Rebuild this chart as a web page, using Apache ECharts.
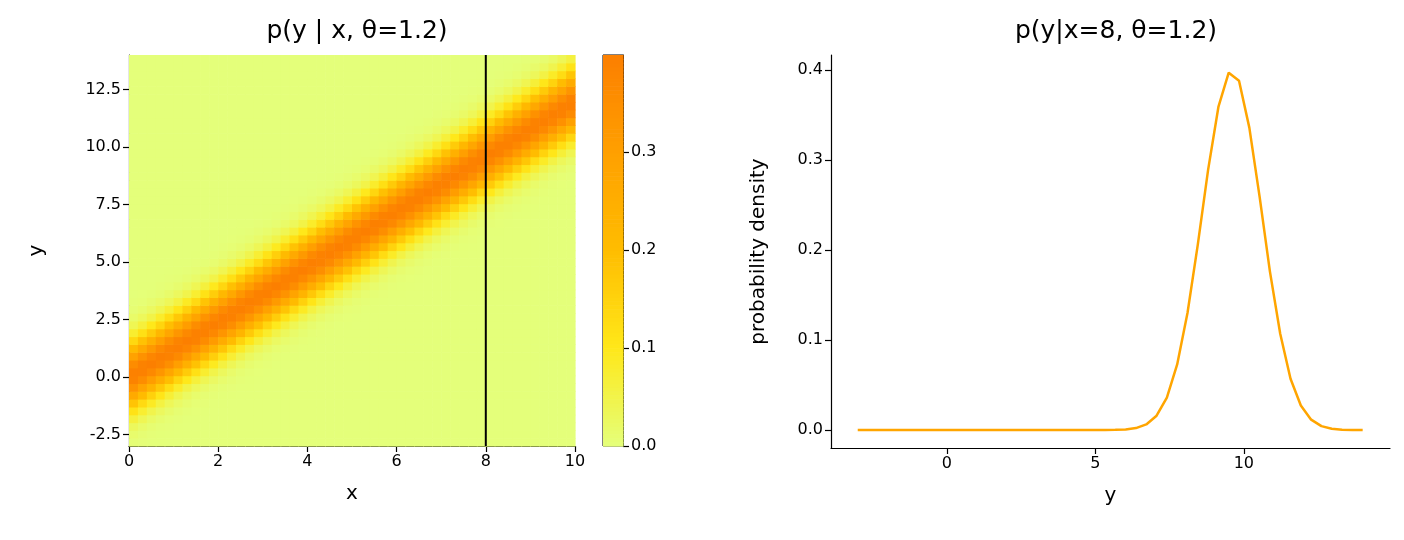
<!DOCTYPE html>
<html><head><meta charset="utf-8">
<script src="https://cdn.jsdelivr.net/npm/echarts@6/dist/echarts.min.js"></script>
<style>html,body{margin:0;padding:0;background:#fff}#c{width:1404px;height:540px}</style>
</head><body><div id="c"></div>
<script>
// Right panel: y grid and density values
const yGrid = Array.from({length:50},(_,i)=>+(-3+i*17/49).toFixed(3));
const densityAtX8 = [0,0,0,0,0,0,0,0,0,0,0,0,0,0,0,0,0,0,0,0,0,0,0,0.00001,0.00004,0.00018,0.00066,0.0021,0.0062,0.0159,0.0361,0.0728,0.130,0.206,0.289,0.359,0.397,0.388,0.336,0.259,0.176,0.107,0.057,0.0272,0.0115,0.0043,0.0014,0.0004,0.0001,0.00003];
const profileStep = 0.25;
const ridgeSlope = 1.2;
const profile = [0.399,0.387,0.352,0.301,0.242,0.183,0.130,0.086,0.054,0.032,0.018,0.009,0.0044,0.002,0.0009,0.0004,0.0001,0];
const leftYTicks = [-2.5,0,2.5,5,7.5,10,12.5];
const rightXTicks = [0,5,10];
const rightYTicks = [0,0.1,0.2,0.3,0.4];
const xCells = 50, yCells = 50, xMin=0, xMax=10, yMin=-3, yMax=14;
const cellW=(xMax-xMin)/xCells, cellH=(yMax-yMin)/yCells;
function look(d){d=Math.abs(d)/profileStep;const i=Math.floor(d);if(i>=profile.length-1)return 0;const f=d-i;return profile[i]*(1-f)+profile[i+1]*f;}
const heat=[];
for(let j=0;j<xCells;j++)for(let i=0;i<yCells;i++){const xc=xMin+cellW*(j+0.5),yc=yMin+cellH*(i+0.5);heat.push([xc,yc,look(yc-ridgeSlope*xc)]);}
const vmax=0.399;
const cbar=[];for(let k=0;k<100;k++)cbar.push([0,vmax*(k+0.5)/100,vmax*(k+0.5)/100]);
const colors=['#e4ff7a','#ffe81a','#ffbd00','#ffa000','#fc7f00'];
const font='DejaVu Sans';
const tick={color:'#000',fontSize:16,fontFamily:font};
const axL={onZero:false,lineStyle:{color:'#000',width:1.2}};
const axT={show:true,length:6,lineStyle:{color:'#000',width:1.2}};
const nm={fontSize:20,color:'#000',fontFamily:font};
const ch=echarts.init(document.getElementById('c'));
function rect(w,h){return function(p,api){const c=api.coord([api.value(0),api.value(1)]);const s=api.size([w,h]);return{type:'rect',shape:{x:c[0]-s[0]/2,y:c[1]-s[1]/2,width:s[0]+0.6,height:s[1]+0.6},style:{fill:api.visual('color')}};};}
ch.setOption({
 animation:false,textStyle:{fontFamily:font},
 title:[{text:'p(y | x, θ=1.2)',left:352,top:14,textAlign:'center',textStyle:{fontSize:25,fontWeight:'normal',fontFamily:font,color:'#000'}},
        {text:'p(y|x=8, θ=1.2)',left:1111,top:14,textAlign:'center',textStyle:{fontSize:25,fontWeight:'normal',fontFamily:font,color:'#000'}}],
 grid:[{left:129,top:55,width:446,height:391},{left:603,top:55,width:20,height:391},{left:831,top:55,width:559,height:393}],
 xAxis:[
  {gridIndex:0,type:'value',min:0,max:10,interval:2,name:'x',nameLocation:'middle',nameGap:38,nameTextStyle:nm,axisLine:axL,axisTick:axT,axisLabel:tick,splitLine:{show:false}},
  {gridIndex:1,type:'value',min:-0.5,max:0.5,show:false},
  {gridIndex:2,type:'value',min:-3.9,max:14.92,name:'y',nameLocation:'middle',nameGap:38,nameTextStyle:nm,axisLine:axL,axisTick:{...axT,customValues:rightXTicks},axisLabel:{...tick,customValues:rightXTicks},splitLine:{show:false}}],
 yAxis:[
  {gridIndex:0,type:'value',min:-3,max:14,name:'y',nameLocation:'middle',nameRotate:90,nameGap:82,nameTextStyle:nm,axisLine:axL,axisTick:{...axT,customValues:leftYTicks},axisLabel:{...tick,customValues:leftYTicks,formatter:v=>v.toFixed(1)},splitLine:{show:false}},
  {gridIndex:1,type:'value',min:0,max:vmax,interval:0.1,position:'right',axisLine:{show:true,onZero:false,lineStyle:{color:'#000',width:1}},axisTick:axT,axisLabel:{...tick,formatter:v=>v.toFixed(1),showMaxLabel:false},splitLine:{show:false}},
  {gridIndex:2,type:'value',min:-0.02,max:0.4167,name:'probability density',nameLocation:'middle',nameGap:62,nameTextStyle:nm,axisLine:{show:true,onZero:false,lineStyle:{color:'#000',width:1.2}},axisTick:{...axT,customValues:rightYTicks},axisLabel:{...tick,customValues:rightYTicks,formatter:v=>v.toFixed(1)},splitLine:{show:false}}],
 visualMap:{show:false,type:'continuous',min:0,max:vmax,dimension:2,seriesIndex:[0,1],inRange:{color:colors}},
 series:[
  {type:'custom',xAxisIndex:0,yAxisIndex:0,renderItem:rect(cellW,cellH),data:heat,encode:{x:0,y:1}},
  {type:'custom',xAxisIndex:1,yAxisIndex:1,renderItem:rect(1,vmax/100),data:cbar,encode:{x:0,y:1}},
  {type:'line',xAxisIndex:0,yAxisIndex:0,data:[[8,-3],[8,14]],symbol:'none',lineStyle:{color:'#000',width:2}},
  {type:'line',xAxisIndex:2,yAxisIndex:2,data:yGrid.map((y,i)=>[y,densityAtX8[i]]),symbol:'none',lineStyle:{color:'#ffa500',width:2.5}}
 ],
 graphic:[{type:'rect',shape:{x:603,y:55,width:20,height:391},style:{fill:'none',stroke:'#000',lineWidth:1}}]
});
</script></body></html>
